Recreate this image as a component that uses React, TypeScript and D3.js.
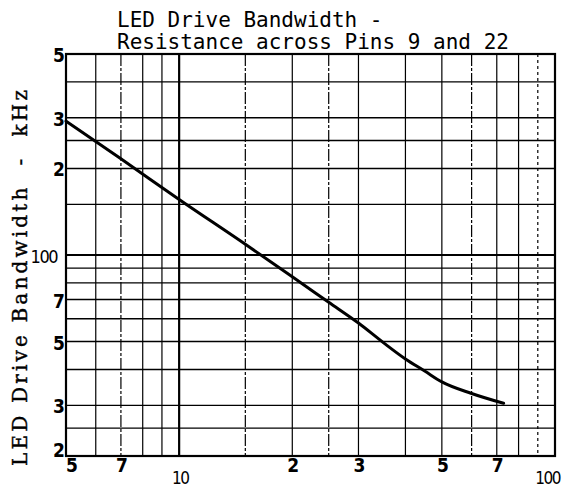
import React from "react";
import * as d3 from "d3";

// ---- data ----
const resistance = [5, 7, 10, 15, 20, 25, 30, 35, 40, 45, 50, 60, 73];
const bandwidth = [292, 216, 156, 109, 84, 68.5, 58, 49.5, 43.5, 39.5, 36.2, 33, 30.5];

const xTicks = [5, 7, 10, 20, 30, 50, 70, 100];
const xTickLabels = ["5", "7", "10", "2", "3", "5", "7", "100"];
const yTicks = [20, 30, 50, 70, 100, 200, 300, 500];
const yTickLabels = ["2", "3", "5", "7", "100", "2", "3", "5"];

const xGrid = [6, 7, 8, 9, 10, 15, 20, 25, 30, 40, 50, 60, 70, 80, 90];
const yGrid = [25, 30, 40, 50, 60, 70, 80, 90, 100, 150, 200, 250, 300, 400];
const xDashed = [7, 15, 25, 60];
const xDotted = [90];

const titleLines = ["LED Drive Bandwidth -", "Resistance across Pins 9 and 22"];
const yTitle = "LED Drive Bandwidth  -  kHz";

const W = 564;
const H = 487;
const L = 66, R = 555, T = 54, B = 456;

export default function App() {
  const x = d3.scaleLog().domain([5, 100]).range([L, R]);
  const y = d3.scaleLog().domain([20, 500]).range([B, T]);
  const pts: [number, number][] = resistance.map((r, i) => [x(r), y(bandwidth[i])]);
  const line = d3.line().curve(d3.curveMonotoneX)(pts) || "";
  const isDecade = (v: number) => Math.abs(Math.log10(v) - Math.round(Math.log10(v))) < 1e-9;
  const tickFont = "'DejaVu Sans Condensed', 'Liberation Sans Narrow', 'DejaVu Sans', sans-serif";

  return (
    <svg
      width={W}
      height={H}
      viewBox={`0 0 ${W} ${H}`}
      style={{ position: "absolute", left: 0, top: 0, background: "#fff" }}
    >
      <rect x={0} y={0} width={W} height={H} fill="#fff" />
      {/* vertical grid */}
      {xGrid.map((v) => (
        <line
          key={"vx" + v}
          x1={x(v)}
          x2={x(v)}
          y1={T}
          y2={B}
          stroke="#000"
          strokeWidth={isDecade(v) ? 2.2 : 1.2}
          strokeDasharray={xDashed.includes(v) ? "12,2,3,2" : xDotted.includes(v) ? "3,3" : undefined}
        />
      ))}
      {/* horizontal grid */}
      {yGrid.map((v) => (
        <line
          key={"hy" + v}
          x1={L}
          x2={R}
          y1={y(v)}
          y2={y(v)}
          stroke="#000"
          strokeWidth={isDecade(v) ? 2 : 1.4}
        />
      ))}
      {/* frame */}
      <rect x={L} y={T} width={R - L} height={B - T} fill="none" stroke="#000" strokeWidth={2.2} />

      {/* curve */}
      <path d={line} fill="none" stroke="#000" strokeWidth={3} strokeLinecap="round" />

      {/* x tick labels */}
      {xTicks.map((v, i) => {
        const dec = isDecade(v);
        const first = i === 0;
        const last = i === xTicks.length - 1;
        return (
          <text
            key={"xt" + v}
            x={first ? x(v) : last ? x(v) + 5 : x(v) + 1}
            y={dec ? 484 : 472}
            textAnchor={first ? "start" : last ? "end" : "middle"}
            fontFamily={tickFont}
            fontWeight={dec ? "normal" : "bold"}
            fontSize={dec ? 17 : 19}
            letterSpacing={dec ? -1.5 : 0}
            fill="#000"
          >
            {xTickLabels[i]}
          </text>
        );
      })}

      {/* y tick labels */}
      {yTicks.map((v, i) => {
        const dec = isDecade(v);
        const first = i === 0;
        return (
          <text
            key={"yt" + v}
            x={dec ? 57 : 65}
            y={first ? y(v) + 1 : y(v) + 8}
            textAnchor="end"
            fontFamily={tickFont}
            fontWeight={dec ? "normal" : "bold"}
            fontSize={dec ? 18 : 19}
            letterSpacing={dec ? -1.5 : 0}
            fill="#000"
          >
            {yTickLabels[i]}
          </text>
        );
      })}

      {/* title */}
      {titleLines.map((t, i) => (
        <text
          key={"title" + i}
          x={117}
          y={26.5 + i * 22}
          fontFamily="'DejaVu Sans Mono', monospace"
          fontSize={21}
          fill="#000"
          style={{ whiteSpace: "pre" }}
        >
          {t}
        </text>
      ))}

      {/* y axis title */}
      <text
        transform={`translate(27, 278) rotate(-90)`}
        textAnchor="middle"
        fontFamily="'DejaVu Serif', 'Liberation Serif', serif"
        fontSize={20}
        textLength={376}
        lengthAdjust="spacing"
        fill="#000"
        stroke="#000"
        strokeWidth={0.4}
        style={{ whiteSpace: "pre" }}
      >
        {yTitle}
      </text>
    </svg>
  );
}
